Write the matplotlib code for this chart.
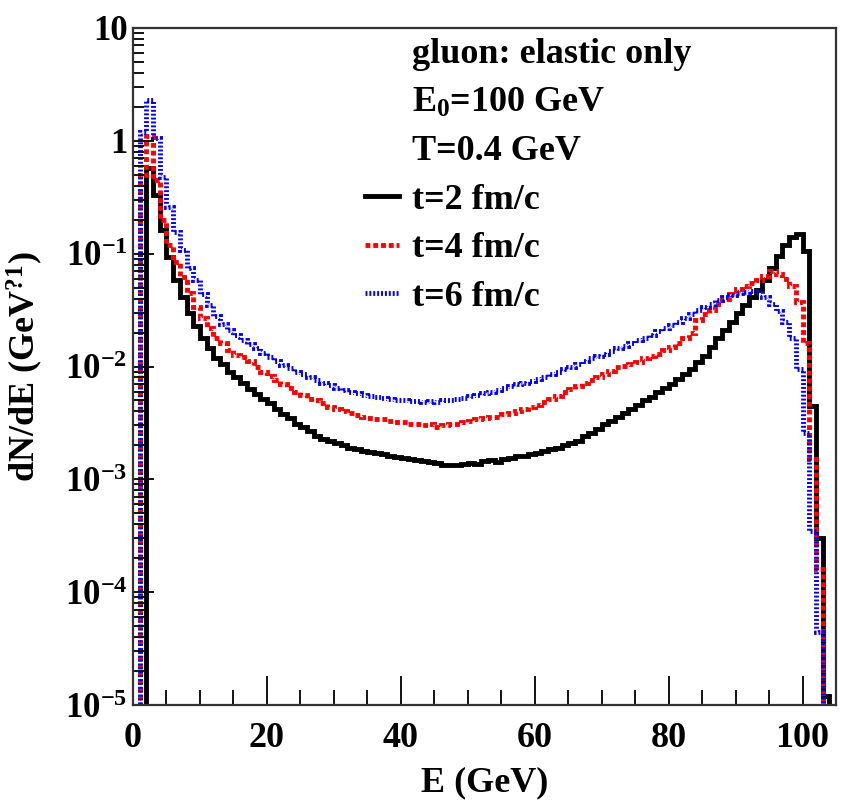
import matplotlib
matplotlib.use("Agg")
import matplotlib.pyplot as plt
import numpy as np
from matplotlib.lines import Line2D
from matplotlib.ticker import FixedLocator, MultipleLocator, LogLocator, NullFormatter

# bold Times-like fonts, as in the ROOT canvas
plt.rcParams['font.family'] = ['Liberation Serif', 'DejaVu Serif']
plt.rcParams['font.weight'] = 'bold'
plt.rcParams['mathtext.fontset'] = 'custom'
plt.rcParams['mathtext.rm'] = 'Liberation Serif:bold'
plt.rcParams['mathtext.it'] = 'Liberation Serif:bold'
plt.rcParams['mathtext.bf'] = 'Liberation Serif:bold'

# 1 GeV bins from 0 to 105 GeV
edges = np.arange(0, 106, 1)

# dN/dE per bin, t = 2 fm/c
dn_t2 = [
    0, 0, 0.57, 0.33, 0.163, 0.093, 0.058, 0.041, 0.030, 0.023,
    0.018, 0.0146, 0.0120, 0.0105, 0.0090, 0.0080, 0.0071, 0.0063, 0.0057, 0.0051,
    0.0047, 0.0042, 0.0038, 0.0035, 0.0031, 0.0029, 0.0027, 0.0024, 0.0023, 0.0022,
    0.0021, 0.0020, 0.0019, 0.00185, 0.0018, 0.00175, 0.0017, 0.00168, 0.0016, 0.00158,
    0.00155, 0.0015, 0.00148, 0.00145, 0.00143, 0.0014, 0.00135, 0.00133, 0.00135, 0.00137,
    0.0014, 0.00138, 0.00145, 0.00148, 0.00143, 0.0015, 0.00155, 0.0016, 0.00162, 0.00168,
    0.0017, 0.00178, 0.00185, 0.0019, 0.0020, 0.0021, 0.0022, 0.0024, 0.0026, 0.0028,
    0.0031, 0.0033, 0.0036, 0.0039, 0.0042, 0.0046, 0.0050, 0.0054, 0.0059, 0.0064,
    0.0070, 0.0077, 0.0085, 0.0095, 0.011, 0.0125, 0.015, 0.018, 0.021, 0.025,
    0.030, 0.035, 0.041, 0.048, 0.058, 0.075, 0.095, 0.12, 0.14, 0.15,
    0.105, 0.0045, 0.0003, 1.2e-5, 0,
]

# dN/dE per bin, t = 4 fm/c
dn_t4 = [
    0, 0.5, 1.1, 0.45, 0.2, 0.12, 0.085, 0.062, 0.045, 0.034,
    0.027, 0.022, 0.018, 0.016, 0.014, 0.0126, 0.0122, 0.0112, 0.0100, 0.0090,
    0.0082, 0.0076, 0.0070, 0.0065, 0.0060, 0.0056, 0.0052, 0.0050, 0.0047, 0.0044,
    0.0042, 0.0040, 0.0039, 0.0037, 0.0036, 0.0035, 0.0034, 0.0034, 0.0033, 0.0032,
    0.0032, 0.0031, 0.0031, 0.0030, 0.0031, 0.0029, 0.0030, 0.0031, 0.0031, 0.0032,
    0.0033, 0.0034, 0.0035, 0.0036, 0.0036, 0.0038, 0.0039, 0.0040, 0.0042, 0.0044,
    0.0046, 0.0048, 0.0051, 0.0055, 0.0059, 0.0063, 0.0067, 0.0071, 0.0076, 0.0081,
    0.0086, 0.0092, 0.0098, 0.0102, 0.0105, 0.011, 0.0118, 0.0124, 0.013, 0.014,
    0.0148, 0.016, 0.018, 0.020, 0.026, 0.029, 0.032, 0.036, 0.040, 0.044,
    0.049, 0.052, 0.055, 0.058, 0.064, 0.070, 0.066, 0.060, 0.052, 0.037,
    0.016, 0.0015, 0.00016, 0, 0,
]

# dN/dE per bin, t = 6 fm/c
dn_t6 = [
    0, 1.2, 2.3, 1.05, 0.48, 0.26, 0.155, 0.107, 0.075, 0.058,
    0.044, 0.035, 0.028, 0.024, 0.021, 0.019, 0.017, 0.0158, 0.0145, 0.0132,
    0.0122, 0.0112, 0.0104, 0.0097, 0.0090, 0.0085, 0.0080, 0.0076, 0.0072, 0.0068,
    0.0064, 0.0062, 0.0060, 0.0058, 0.0056, 0.0055, 0.0054, 0.0053, 0.0051, 0.0050,
    0.0050, 0.0049, 0.0049, 0.0048, 0.0049, 0.0048, 0.0050, 0.0050, 0.0052, 0.0053,
    0.0055, 0.0056, 0.0058, 0.0060, 0.0062, 0.0064, 0.0067, 0.0070, 0.0072, 0.0075,
    0.0078, 0.0081, 0.0086, 0.0090, 0.0095, 0.0100, 0.0106, 0.0112, 0.0118, 0.0124,
    0.013, 0.0137, 0.0145, 0.0152, 0.016, 0.017, 0.018, 0.019, 0.0205, 0.022,
    0.0235, 0.025, 0.027, 0.029, 0.032, 0.034, 0.036, 0.039, 0.041, 0.043,
    0.045, 0.046, 0.047, 0.045, 0.041, 0.036, 0.031, 0.025, 0.018, 0.0095,
    0.0026, 0.00035, 0.000044, 0, 0,
]

labels = ['t=2 fm/c', 't=4 fm/c', 't=6 fm/c']
header = ['gluon: elastic only', 'E$_0$=100 GeV', 'T=0.4 GeV']
yticks = [1e-5, 1e-4, 1e-3, 1e-2, 1e-1, 1, 10]
yticklabels = ['$10^{-5}$', '$10^{-4}$', '$10^{-3}$', '$10^{-2}$', '$10^{-1}$', '1', '10']

LW = 3.5
DASH_RED = (0, (1.0, 0.6))
DOT_BLUE = (0, (0.4, 0.4))

fig = plt.figure(figsize=(8.46, 8.0), dpi=100)
ax = fig.add_axes([0.1572, 0.11875, 0.831, 0.84625])

h2 = ax.stairs(dn_t2, edges, baseline=None, color='black', linewidth=LW)
h4 = ax.stairs(dn_t4, edges, baseline=None, color='#ff0000', linewidth=LW,
               linestyle=DASH_RED)
h6 = ax.stairs(dn_t6, edges, baseline=None, color='#0000ff', linewidth=LW,
               linestyle=DOT_BLUE)
for h in (h2, h4, h6):
    h.set_joinstyle('miter')
    h.set_capstyle('butt')

ax.set_yscale('log')
ax.set_xlim(0, 105)
ax.set_ylim(1e-5, 10)

ax.xaxis.set_major_locator(MultipleLocator(20))
ax.xaxis.set_minor_locator(MultipleLocator(5))
ax.yaxis.set_major_locator(FixedLocator(yticks))
ax.set_yticklabels(yticklabels)
ax.yaxis.set_minor_locator(LogLocator(base=10, subs=np.arange(2, 10)))
ax.yaxis.set_minor_formatter(NullFormatter())

ax.tick_params(axis='both', which='both', direction='in', top=False, right=False,
               width=1.3)
ax.tick_params(axis='x', which='major', length=21, pad=12, labelsize=26)
ax.tick_params(axis='x', which='minor', length=11)
ax.tick_params(axis='y', which='major', length=15, pad=4, labelsize=25)
ax.tick_params(axis='y', which='minor', length=8)
for s in ax.spines.values():
    s.set_linewidth(1.6)
    s.set_color('#333333')

ax.set_xlabel('E (GeV)', fontsize=26, fontweight='bold')
ax.set_ylabel('dN/dE (GeV$^{?1}$)', fontsize=26, fontweight='bold')
ax.xaxis.set_label_coords(0.5, -0.09)
ax.yaxis.set_label_coords(-0.125, 0.5)

blank = [Line2D([], [], linestyle='none') for _ in header]
lines = [Line2D([], [], color='black', linewidth=LW),
         Line2D([], [], color='#ff0000', linewidth=LW, linestyle=DASH_RED),
         Line2D([], [], color='#0000ff', linewidth=LW, linestyle=DOT_BLUE)]
ax.legend(blank + lines, header + labels, loc='upper left',
          bbox_to_anchor=(0.33, 0.985), frameon=False, fontsize=26,
          handlelength=0.95, handletextpad=0.35, labelspacing=0.42,
          borderaxespad=0, borderpad=0)

fig.savefig('out.png', dpi=100)
